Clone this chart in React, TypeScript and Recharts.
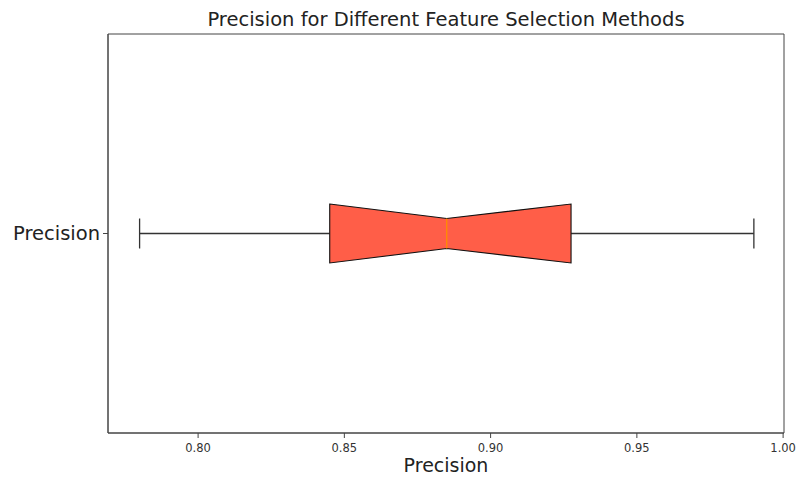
import React from "react";
import {
  ComposedChart,
  Bar,
  XAxis,
  YAxis,
  ReferenceArea,
} from "recharts";

const categories = ["Precision"];
const whiskerLow = [0.78];
const quartile1 = [0.845];
const median = [0.885];
const quartile3 = [0.9275];
const whiskerHigh = [0.99];
const xTicks = [0.8, 0.85, 0.9, 0.95, 1.0];

const xDomain: [number, number] = [0.7692, 1.0003];

const FONT = "'DejaVu Sans', sans-serif";

const data = categories.map((name, i) => ({
  name,
  range: [whiskerLow[i], whiskerHigh[i]],
}));

// notched box drawn inside the [low, high] range bar
const BoxShape = (props: any) => {
  const { x, y, width, height, index } = props;
  const lo = whiskerLow[index];
  const hi = whiskerHigh[index];
  const sx = (v: number) => x + ((v - lo) / (hi - lo)) * width;
  const cy = y + height / 2;
  const half = height / 2;
  const notch = 15;
  const cap = 15;
  const xq1 = sx(quartile1[index]);
  const xmed = sx(median[index]);
  const xq3 = sx(quartile3[index]);
  const xlo = sx(lo);
  const xhi = sx(hi);
  const pts = [
    [xq1, cy - half],
    [xmed, cy - notch],
    [xq3, cy - half],
    [xq3, cy + half],
    [xmed, cy + notch],
    [xq1, cy + half],
  ]
    .map((p) => p.join(","))
    .join(" ");

  return (
    <g>
      <line x1={xlo} y1={cy} x2={xq1} y2={cy} stroke="#333" strokeWidth={1.3} />
      <line x1={xq3} y1={cy} x2={xhi} y2={cy} stroke="#333" strokeWidth={1.3} />
      <line x1={xlo} y1={cy - cap} x2={xlo} y2={cy + cap} stroke="#333" strokeWidth={1.3} />
      <line x1={xhi} y1={cy - cap} x2={xhi} y2={cy + cap} stroke="#333" strokeWidth={1.3} />
      <polygon points={pts} fill="#FF5E48" stroke="#111" strokeWidth={1.1} />
      <line x1={xmed} y1={cy - notch} x2={xmed} y2={cy + notch} stroke="#FF8C00" strokeWidth={1.3} />
    </g>
  );
};

export default function App() {
  return (
    <div style={{ position: "absolute", left: 0, top: 0, width: 797, height: 477 }}>
      <div
        style={{
          position: "absolute",
          left: 108,
          width: 676,
          top: 9,
          textAlign: "center",
          fontFamily: FONT,
          fontSize: 19.5,
          color: "#222",
          lineHeight: "22px",
        }}
      >
        Precision for Different Feature Selection Methods
      </div>
      <ComposedChart
        width={797}
        height={477}
        data={data}
        layout="vertical"
        margin={{ top: 34, right: 13, bottom: 0, left: 0 }}
      >
        <XAxis
          type="number"
          domain={xDomain}
          allowDataOverflow
          ticks={xTicks}
          tickFormatter={(v) => Number(v).toFixed(2)}
          height={44}
          tickSize={5}
          tickMargin={6}
          stroke="#444"
          tick={{ fontSize: 11.5, fill: "#333", fontFamily: FONT }}
          label={{
            value: "Precision",
            position: "insideBottom",
            offset: 5,
            style: { fontSize: 19, fill: "#222", fontFamily: FONT },
          }}
        />
        <YAxis
          type="category"
          dataKey="name"
          width={108}
          tickSize={5}
          tickMargin={3}
          stroke="#444"
          tick={{ fontSize: 19.5, fill: "#222", fontFamily: FONT }}
        />
        <ReferenceArea
          x1={xDomain[0]}
          x2={xDomain[1]}
          fill="none"
          stroke="#444"
          strokeWidth={1}
          ifOverflow="extendDomain"
        />
        <Bar
          dataKey="range"
          barSize={59}
          shape={BoxShape}
          isAnimationActive={false}
        />
      </ComposedChart>
    </div>
  );
}
